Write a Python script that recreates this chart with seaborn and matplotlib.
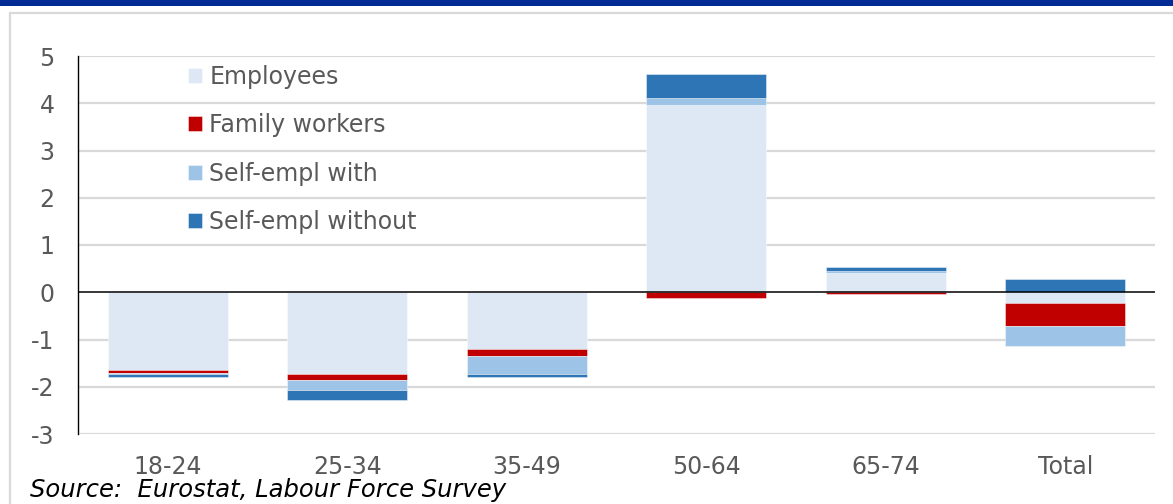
import numpy as np
import pandas as pd
import matplotlib
matplotlib.use("Agg")
import matplotlib.pyplot as plt
from matplotlib.patches import Rectangle
import seaborn as sns

# Change in employment by age group and status (percentage points)
age_groups = ["18-24", "25-34", "35-49", "50-64", "65-74", "Total"]
employees = [-1.65, -1.73, -1.21, 3.97, 0.40, -0.23]
family_workers = [-0.06, -0.13, -0.135, -0.12, -0.04, -0.48]
self_empl_with = [-0.03, -0.20, -0.39, 0.14, 0.056, -0.42]
self_empl_without = [-0.06, -0.21, -0.065, 0.50, 0.07, 0.28]

series_names = ["Employees", "Family workers", "Self-empl with", "Self-empl without"]
series_values = [employees, family_workers, self_empl_with, self_empl_without]
series_colors = ["#DDE8F4", "#C00000", "#9DC3E6", "#2E75B6"]

y_ticks = [5, 4, 3, 2, 1, 0, -1, -2, -3]
source_note = "Source:  Eurostat, Labour Force Survey"

sns.set_theme(style="white")
plt.rcParams["font.family"] = ["DejaVu Sans"]
plt.rcParams["axes.unicode_minus"] = False

fig = plt.figure(figsize=(11.73, 5.04), dpi=100)
ax = fig.add_axes([78 / 1173, 1 - 434 / 504, (1155 - 78) / 1173, (434 - 56) / 504])

# Stack positives upward and negatives downward, series by series
pos_base = np.zeros(len(age_groups))
neg_base = np.zeros(len(age_groups))
for name, vals, color in zip(series_names, series_values, series_colors):
    vals = np.asarray(vals, dtype=float)
    bottom = np.where(vals >= 0, pos_base, neg_base)
    df = pd.DataFrame({"group": age_groups, "value": vals})
    sns.barplot(data=df, x="group", y="value", order=age_groups, color=color,
                saturation=1, width=0.67, bottom=bottom, ax=ax,
                edgecolor=(1, 1, 1, 0.5), linewidth=0.6, label=name, zorder=2)
    pos_base = pos_base + np.where(vals >= 0, vals, 0)
    neg_base = neg_base + np.where(vals < 0, vals, 0)

ax.set_xlim(-0.5, len(age_groups) - 0.5)
ax.set_ylim(-3, 5)
ax.set_yticks(y_ticks)
ax.set_yticklabels([str(v) for v in y_ticks])
ax.set_xlabel("")
ax.set_ylabel("")

for v in y_ticks:
    if v != 0:
        ax.axhline(v, color="#D9D9D9", linewidth=1.6, zorder=0)
ax.axhline(0, color="black", linewidth=1.1, zorder=3)

for side in ["top", "right", "bottom"]:
    ax.spines[side].set_visible(False)
ax.spines["left"].set_color("black")
ax.spines["left"].set_linewidth(1.0)

ax.tick_params(axis="both", length=0, labelsize=17, colors="#595959")
ax.tick_params(axis="y", pad=17)
ax.tick_params(axis="x", pad=15)

handles, labels = ax.get_legend_handles_labels()
leg = ax.legend(handles, labels, loc="upper left",
                bbox_to_anchor=(188 / 1173, 1 - 65 / 504),
                bbox_transform=fig.transFigure, frameon=False,
                fontsize=17, labelcolor="#595959", handlelength=0.6,
                handleheight=0.6, handletextpad=0.3, labelspacing=1.03,
                borderpad=0, borderaxespad=0)

# Outer frame and banner
fig.patches.append(Rectangle((0, 1 - 6 / 504), 1, 6 / 504, transform=fig.transFigure,
                             facecolor="#002A94", edgecolor="none", zorder=0))
fig.patches.append(Rectangle((10 / 1173, -0.05), 1.2, 1 - 13 / 504 + 0.05,
                             transform=fig.transFigure, facecolor="none",
                             edgecolor="#D9D9D9", linewidth=1.6, zorder=0))

fig.text(30 / 1173, 1 - 490 / 504, source_note, fontsize=17.5, style="italic",
         color="black", va="center", ha="left")

fig.savefig("out.png", dpi=100)
